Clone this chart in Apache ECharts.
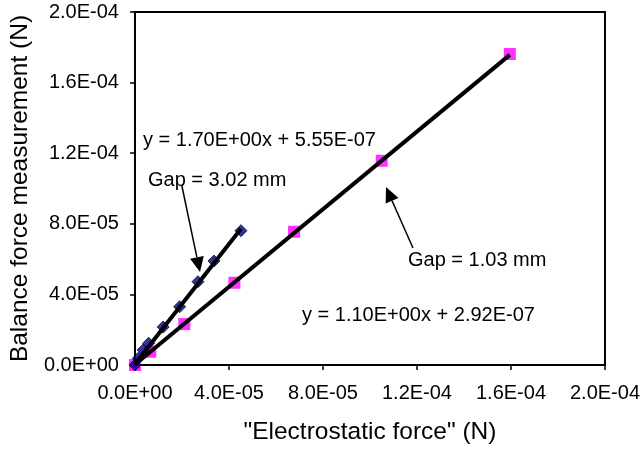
<!DOCTYPE html>
<html>
<head>
<meta charset="utf-8">
<script src="https://cdn.jsdelivr.net/npm/echarts@6/dist/echarts.min.js"></script>
<style>
html,body{margin:0;padding:0;background:#fff;}
#c{width:643px;height:450px;}
</style>
</head>
<body>
<div id="c"></div>
<script>
// ---- data (N) ----
const gap302 = [[0,0],[0.14e-5,0.38e-5],[0.35e-5,0.85e-5],[0.58e-5,1.23e-5],[1.20e-5,2.15e-5],[1.90e-5,3.30e-5],[2.68e-5,4.72e-5],[3.36e-5,5.89e-5],[4.51e-5,7.61e-5]];
const gap103 = [[0,0],[0.65e-5,0.75e-5],[2.10e-5,2.32e-5],[4.23e-5,4.66e-5],[6.77e-5,7.55e-5],[10.5e-5,11.57e-5],[15.95e-5,17.62e-5]];
const trend302 = [[0,0.06e-5],[4.51e-5,7.72e-5]];
const trend103 = [[0,0.03e-5],[15.95e-5,17.57e-5]];
const xTickLabels = ['0.0E+00','4.0E-05','8.0E-05','1.2E-04','1.6E-04','2.0E-04'];
const yTickLabels = ['0.0E+00','4.0E-05','8.0E-05','1.2E-04','1.6E-04','2.0E-04'];
const eq302 = 'y = 1.70E+00x + 5.55E-07';
const eq103 = 'y = 1.10E+00x + 2.92E-07';
const label302 = 'Gap = 3.02 mm';
const label103 = 'Gap = 1.03 mm';

const FONT = '"Liberation Sans", Arial, sans-serif';
const chart = echarts.init(document.getElementById('c'), null, {renderer:'canvas'});

function arrow(sx, sy, tx, ty){
  const dx = tx-sx, dy = ty-sy, L = Math.hypot(dx,dy);
  const ux = dx/L, uy = dy/L, hl = 15, hw = 7;
  const bx = tx-ux*hl, by = ty-uy*hl;
  return [
    {type:'line', shape:{x1:sx,y1:sy,x2:bx,y2:by}, style:{stroke:'#000', lineWidth:1.5}, z:100},
    {type:'polygon', shape:{points:[[tx,ty],[bx-uy*hw,by+ux*hw],[bx+uy*hw,by-ux*hw]]}, style:{fill:'#000'}, z:100}
  ];
}
function txt(s, x, y){
  return {type:'text', x:x, y:y, style:{text:s, fill:'#000', font:'20px '+FONT, textVerticalAlign:'middle', verticalAlign:'middle'}, z:100};
}

chart.setOption({
  animation:false,
  backgroundColor:'#fff',
  grid:{left:134, right:35, top:12, bottom:84, show:true, borderColor:'#000', borderWidth:2, backgroundColor:'transparent'},
  xAxis:{
    type:'value', min:0, max:2e-4, interval:4e-5,
    name:'"Electrostatic force" (N)', nameLocation:'middle', nameGap:55,
    nameTextStyle:{fontFamily:FONT, fontSize:24.5, color:'#000'},
    axisLine:{show:true, lineStyle:{color:'#000', width:2}},
    axisTick:{show:true, length:5, lineStyle:{color:'#000', width:1.5}},
    axisLabel:{margin:18, fontFamily:FONT, fontSize:20, color:'#000', showMaxLabel:true,
      formatter:(v)=>xTickLabels[Math.round(v/4e-5)]},
    splitLine:{show:false}
  },
  yAxis:{
    type:'value', min:0, max:2e-4, interval:4e-5,
    name:'Balance force measurement (N)', nameLocation:'middle', nameGap:99, nameRotate:90,
    nameTextStyle:{fontFamily:FONT, fontSize:24.5, color:'#000'},
    axisLine:{show:true, lineStyle:{color:'#000', width:2}},
    axisTick:{show:true, length:5, lineStyle:{color:'#000', width:1.5}},
    axisLabel:{margin:16, fontFamily:FONT, fontSize:20, color:'#000',
      formatter:(v)=>yTickLabels[Math.round(v/4e-5)]},
    splitLine:{show:false}
  },
  series:[
    {type:'scatter', name:'Gap 3.02 mm', data:gap302, symbol:'diamond', symbolSize:12,
     itemStyle:{color:'#000080', borderColor:'#000040', borderWidth:1}, z:3},
    {type:'scatter', name:'Gap 1.03 mm', data:gap103, symbol:'rect', symbolSize:12,
     itemStyle:{color:'#FF00FF'}, z:2},
    {type:'line', data:trend302, symbol:'none', lineStyle:{color:'#000', width:4}, z:5},
    {type:'line', data:trend103, symbol:'none', lineStyle:{color:'#000', width:4}, z:5}
  ],
  graphic:[
    txt(eq302, 143, 140),
    txt(label302, 148, 180),
    txt(label103, 408, 260),
    txt(eq103, 302, 315),
    ...arrow(181.7,185,200,272),
    ...arrow(413,248,386,187)
  ]
});
</script>
</body>
</html>
